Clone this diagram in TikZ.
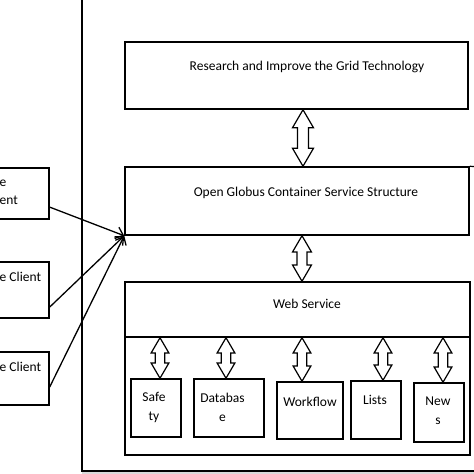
\documentclass[tikz,border=0pt]{standalone}
\usepackage{fontspec}
\setmainfont{Carlito}
\usetikzlibrary{calc,arrows.meta,positioning}
\tikzset{
    component/.style={
    rectangle,draw=black,line width=1.5pt,inner sep=0pt
    },
    client/.style={
    rectangle,draw=black,line width=1.2pt,inner sep=0pt
    },
    caption/.style={
    inner sep=0pt,align=center
    },
    cut/.style={
    inner sep=0pt,anchor=west
    },
    blockarrow/.style={
    draw=black,fill=white,line width=1.2pt,line join=miter
    },
    request/.style={
    line width=1.3pt,-{Straight Barb[length=7pt,width=12pt]}
    },
    frame/.style={
    line width=1.2pt
    },
}
% hollow double arrow: [size] x, upper node, lower node
\newcommand{\dblarrow}[4][1]{%
  \draw[blockarrow] let \p1=(#2,0), \p2=(#3.south), \p3=(#4.north) in
    (\x1,\y2) -- (\x1+10.5pt*#1,\y2-18pt*#1) -- (\x1+5.5pt*#1,\y2-18pt*#1)
    -- (\x1+5.5pt*#1,\y3+18pt*#1) -- (\x1+10.5pt*#1,\y3+18pt*#1) -- (\x1,\y3)
    -- (\x1-10.5pt*#1,\y3+18pt*#1) -- (\x1-5.5pt*#1,\y3+18pt*#1)
    -- (\x1-5.5pt*#1,\y2-18pt*#1) -- (\x1-10.5pt*#1,\y2-18pt*#1) -- cycle;}
\begin{document}
\begin{tikzpicture}[x=1pt, y=-1pt, every node/.style={font=\fontsize{13.5}{19}\selectfont}]
   \useasboundingbox (0,0) rectangle (474,474);
   \clip (0,0) rectangle (474,474);

   % outer frame
   \fill[gray!30] (82,472) rectangle (474,475);
   \draw[frame] (82,-5) -- (82,471) -- (480,471);

   % layers
   \node[component,minimum width=343,minimum height=67] (RG) at (296.5,75.5) {};
   \node[caption] (RGt) at (307,67) {Research and Improve the Grid Technology};
   \node[component,minimum width=344,minimum height=68] (OG) at (297,201) {};
   \node[caption] (OGt) at (306,193) {Open Globus Container Service Structure};
   \node[component,minimum width=345,minimum height=173] (WC) at (297.5,368.5) {};
   \node[component,minimum width=345,minimum height=55] (WS) at (297.5,309.5) {};
   \node[caption] (WSt) at (307,304) {Web Service};
   \draw[frame] (OG.north east) -- (480,167);

   % services
   \node[component,minimum width=50,minimum height=58] (SF) at (156,408) {};
   \node[caption] (SFt) at (154,407.5) {Safe\\ty};
   \node[component,minimum width=70,minimum height=58] (DB) at (229,408) {};
   \node[caption] (DBt) at (222.5,407.5) {Databas\\e};
   \node[component,minimum width=66,minimum height=57] (WF) at (310,410.5) {};
   \node[caption] (WFt) at (310,402) {Workflow};
   \node[component,minimum width=50,minimum height=58] (LS) at (376,410) {};
   \node[caption] (LSt) at (375,400) {Lists};
   \node[component,minimum width=50,minimum height=59] (NW) at (439,412.5) {};
   \node[caption] (NWt) at (438,411) {New\\s};

   \dblarrow{303}{RG}{OG}
   \dblarrow[0.9]{302}{OG}{WS}
   \dblarrow[0.85]{160}{WS}{SF}
   \dblarrow[0.85]{226}{WS}{DB}
   \dblarrow[0.85]{302}{WS}{WF}
   \dblarrow[0.85]{383}{WS}{LS}
   \dblarrow[0.85]{443}{WS}{NW}

   % clients
   \node[client,minimum width=110,minimum height=51] (C1) at (-6,193.5) {};
   \node[cut] (C1a) at (-0.5,183) {e};
   \node[cut] (C1b) at (-0.5,200) {ent};
   \node[client,minimum width=110,minimum height=56] (C2) at (-6,290) {};
   \node[cut] (C2t) at (-0.5,277) {e Client};
   \node[client,minimum width=110,minimum height=53] (C3) at (-6,378.5) {};
   \node[cut] (C3t) at (-0.5,367) {e Client};

   \draw[request] ($(C1.north east)!0.76!(C1.south east)$) -- (OG.south west);
   \draw[request] ($(C2.north east)!0.8!(C2.south east)$) -- (OG.south west);
   \draw[request] ($(C3.north east)!0.66!(C3.south east)$) -- (OG.south west);
\end{tikzpicture}
\end{document}
